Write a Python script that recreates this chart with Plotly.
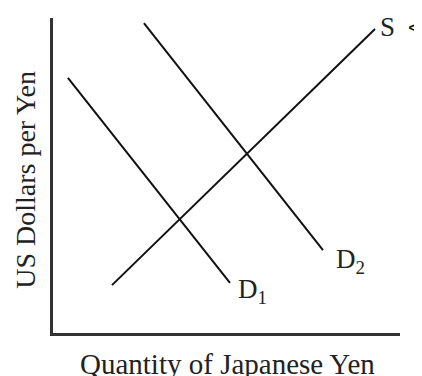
import plotly.graph_objects as go

# Curves (quantity, price) in arbitrary units
s_x = [17.0, 92.8]
s_y = [15.2, 96.5]
d1_x = [4.3, 51.0]
d1_y = [81.0, 15.9]
d2_x = [26.2, 77.8]
d2_y = [98.4, 26.3]

x_title = "Quantity of Japanese Yen"
y_title = "US Dollars per Yen"

serif = "Liberation Serif, Times New Roman, serif"

fig = go.Figure()
for xs, ys in [(s_x, s_y), (d1_x, d1_y), (d2_x, d2_y)]:
    fig.add_trace(go.Scatter(x=xs, y=ys, mode="lines",
                             line=dict(color="#111111", width=2),
                             showlegend=False, hoverinfo="skip"))

labels = [
    ("S", 96.5, 97.3, 27),
    ("D<sub>2</sub>", 85.6, 22.8, 27),
    ("D<sub>1</sub>", 57.6, 13.3, 27),
]
for txt, x, y, sz in labels:
    fig.add_annotation(x=x, y=y, xref="x", yref="y", text=txt, showarrow=False,
                       font=dict(family=serif, size=sz, color="#222222"))
fig.add_annotation(x=1.0195, y=0.97, xref="paper", yref="paper", text="&lt;", showarrow=False,
                   xanchor="left", yanchor="middle", borderpad=0,
                   font=dict(family="Liberation Sans, Arial, sans-serif", size=22, color="#111111"))

# axis titles as annotations (fixed placement)
fig.add_annotation(x=0.504, y=-0.097, xref="paper", yref="paper", text=x_title,
                   showarrow=False, xanchor="center", yanchor="middle",
                   font=dict(family=serif, size=29, color="#222222"))
fig.add_annotation(x=-0.078, y=0.486, xref="paper", yref="paper", text=y_title,
                   showarrow=False, textangle=-90, xanchor="center", yanchor="middle",
                   font=dict(family=serif, size=28, color="#222222"))

# page body has an 8px margin, so the figure is sized/offset to compensate
fig.update_layout(
    width=414, height=368,
    margin=dict(l=45, r=22, t=10, b=43, autoexpand=False),
    paper_bgcolor="white", plot_bgcolor="white",
    xaxis=dict(range=[0, 100], showgrid=False, zeroline=False, showticklabels=False,
               ticks="", showline=True, linecolor="#333333", linewidth=2.5, automargin=False),
    yaxis=dict(range=[0, 100], showgrid=False, zeroline=False, showticklabels=False,
               ticks="", showline=True, linecolor="#333333", linewidth=2.5, automargin=False),
)

fig.write_html("out.html")
